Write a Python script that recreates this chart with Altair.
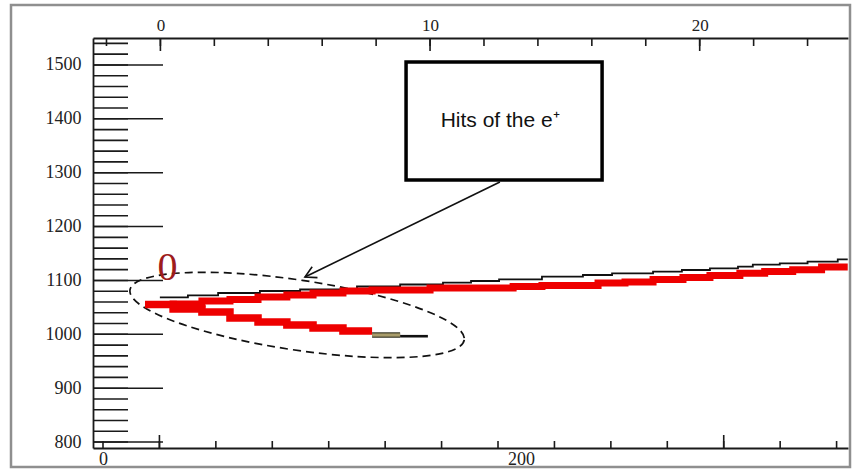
import altair as alt
import pandas as pd

# ---------------- axis values ----------------
y_labels = [800, 900, 1000, 1100, 1200, 1300, 1400, 1500]
y_minor_ticks = [800, 820, 840, 860, 880, 900, 920, 940, 960, 980, 1000, 1020, 1040, 1060, 1080,
                 1100, 1120, 1140, 1160, 1180, 1200, 1220, 1240, 1260, 1280, 1300, 1320, 1340, 1360,
                 1380, 1400, 1420, 1440, 1460, 1480, 1500, 1520, 1540]
y_major_ticks = [800, 900, 1000, 1100, 1200, 1300, 1400, 1500]

top_labels = [0, 10, 20]
top_minor_ticks = [-2, 0, 2, 4, 6, 8, 10, 12, 14, 16, 18, 20, 22, 24]
top_major_ticks = [0, 10, 20]

bottom_labels = [0, 200]
bottom_minor_ticks = [0, 27, 54, 81, 108, 135, 162, 189, 216, 243, 270, 297, 324, 351]
bottom_major_ticks = [27, 297]

# ---------------- tracks ----------------
black_x = [-0.02, 1.02, 2.14, 3.69, 5.18, 7.29, 8.89, 10.48, 11.52, 12.56, 14.15, 15.67, 16.75,
           18.27, 19.34, 20.38, 21.42, 21.97, 22.97, 24.00, 25.12, 25.49]
black_y = [1068.7, 1072.4, 1076.7, 1080.4, 1083.2, 1088.8, 1092.5, 1095.8, 1099.0, 1102.1, 1107.0,
           1110.1, 1113.3, 1116.2, 1119.4, 1122.5, 1125.5, 1129.2, 1131.8, 1134.8, 1139.2, 1139.2]

red_upper_x = [-0.57, 0.47, 1.54, 2.58, 3.62, 4.69, 5.66, 6.77, 7.85, 10.00, 13.08, 14.15, 16.23,
               17.23, 18.27, 19.38, 20.38, 21.49, 22.41, 23.45, 24.52, 25.49]
red_upper_y = [1055.3, 1056.3, 1061.9, 1064.6, 1069.3, 1073.0, 1076.7, 1080.4, 1082.3, 1086.0,
               1088.8, 1090.6, 1095.3, 1097.1, 1101.8, 1105.5, 1109.2, 1113.3, 1116.6, 1119.9,
               1125.0, 1125.0]

red_lower_x = [-0.57, 0.47, 1.54, 2.58, 3.62, 4.69, 5.66, 6.77, 7.85]
red_lower_y = [1055.3, 1047.0, 1041.4, 1030.3, 1022.9, 1017.3, 1011.7, 1006.2, 1006.2]

olive_x = [7.85, 8.89]
olive_y = [998.7, 998.7]

tail_x = [8.89, 9.92]
tail_y = [996.5, 996.5]

# ---------------- annotations ----------------
ellipse_x = [5.07]
ellipse_y = [1035.9]
box_x, box_x2 = [9.11], [16.38]
box_y, box_y2 = [1505.5], [1286.4]
box_text = ["Hits of the e\u207a"]
box_text_x, box_text_y = [12.6], [1395.9]
arrow_x, arrow_y = [12.59], [1282.7]
arrow_x2, arrow_y2 = [5.36], [1106.4]
marker_text = ["0"]
marker_x, marker_y = [0.26], [1123.0]

# ---------------- scales / axes ----------------
W, H = 755, 410
xs = alt.Scale(domain=[-2.5, 25.5], nice=False, zero=False)
xb = alt.Scale(domain=[-4.785, 356.46], nice=False, zero=False)
ys = alt.Scale(domain=[789, 1550], nice=False, zero=False)

SERIF = "Liberation Serif"
top_axis = alt.Axis(orient="top", values=top_labels, ticks=False, tickSize=0, grid=False,
                    domainColor="#1a1a1a", domainWidth=1.8, labelFont=SERIF, labelFontSize=17,
                    labelColor="#222222", labelPadding=4, title=None, labelFlush=False,
                    format="d")
left_axis = alt.Axis(orient="left", values=y_labels, ticks=False, tickSize=0, grid=False,
                     domainColor="#1a1a1a", domainWidth=1.8, labelFont=SERIF, labelFontSize=18,
                     labelColor="#222222", labelPadding=12, title=None, labelFlush=False,
                     format="d")
bottom_axis = alt.Axis(orient="bottom", values=bottom_labels, ticks=False, tickSize=0, grid=False,
                       domainColor="#1a1a1a", domainWidth=1.8, labelFont=SERIF, labelFontSize=18,
                       labelColor="#222222", labelPadding=2, title=None, labelFlush=False,
                       format="d")


def X(field):
    return alt.X(f"{field}:Q", scale=xs, axis=top_axis)


def Y(field):
    return alt.Y(f"{field}:Q", scale=ys, axis=left_axis)


one = pd.DataFrame({"k": [0]})

# screenshot frame
frame = alt.Chart(one).mark_rect(fill=None, stroke="#8f8f8f", strokeWidth=2.5).encode(
    x=alt.value(-82), x2=alt.value(757), y=alt.value(-33), y2=alt.value(429))

# left ticks (inward)
left_minor = alt.Chart(pd.DataFrame({"v": y_minor_ticks})).mark_rule(
    color="#1a1a1a", strokeWidth=1.6).encode(y=Y("v"), x=alt.value(0), x2=alt.value(35))
left_major = alt.Chart(pd.DataFrame({"v": y_major_ticks})).mark_rule(
    color="#1a1a1a", strokeWidth=1.6).encode(y=Y("v"), x=alt.value(0), x2=alt.value(70))

# top ticks (inward)
top_minor = alt.Chart(pd.DataFrame({"v": top_minor_ticks})).mark_rule(
    color="#1a1a1a", strokeWidth=1.6).encode(x=X("v"), y=alt.value(0), y2=alt.value(8))
top_major = alt.Chart(pd.DataFrame({"v": top_major_ticks})).mark_rule(
    color="#1a1a1a", strokeWidth=1.6).encode(x=X("v"), y=alt.value(0), y2=alt.value(13))

# ellipse (dashed)
ELLIPSE = ("M 1 0 C 1 0.1144 0.5523 0.2071 0 0.2071 C -0.5523 0.2071 -1 0.1144 -1 0 "
           "C -1 -0.1144 -0.5523 -0.2071 0 -0.2071 C 0.5523 -0.2071 1 -0.1144 1 0 Z")
ellipse = alt.Chart(pd.DataFrame({"x": ellipse_x, "y": ellipse_y})).mark_point(
    shape=ELLIPSE, filled=False, stroke="#111111", strokeWidth=1.7, strokeDash=[8, 5],
    size=114244, angle=8.5, opacity=1).encode(x=X("x"), y=Y("y"))

black = alt.Chart(pd.DataFrame({"x": black_x, "y": black_y})).mark_line(
    interpolate="step-after", color="#111111", strokeWidth=1.8).encode(x=X("x"), y=Y("y"))

red_upper = alt.Chart(pd.DataFrame({"x": red_upper_x, "y": red_upper_y})).mark_line(
    interpolate="step-after", color="#ee0000", strokeWidth=7, strokeCap="butt").encode(
    x=X("x"), y=Y("y"))
red_lower = alt.Chart(pd.DataFrame({"x": red_lower_x, "y": red_lower_y})).mark_line(
    interpolate="step-after", color="#ee0000", strokeWidth=7.5, strokeCap="butt").encode(
    x=X("x"), y=Y("y"))

olive_edge = alt.Chart(pd.DataFrame({"x": olive_x, "y": olive_y})).mark_line(
    color="#333322", strokeWidth=5.5, strokeCap="butt").encode(x=X("x"), y=Y("y"))
olive = alt.Chart(pd.DataFrame({"x": olive_x, "y": olive_y})).mark_line(
    color="#a89c6a", strokeWidth=3.2, strokeCap="butt").encode(x=X("x"), y=Y("y"))
tail = alt.Chart(pd.DataFrame({"x": tail_x, "y": tail_y})).mark_line(
    color="#111111", strokeWidth=2.6, strokeCap="butt").encode(x=X("x"), y=Y("y"))

arrow_df = pd.DataFrame({"x": arrow_x, "y": arrow_y, "x2": arrow_x2, "y2": arrow_y2})
arrow = alt.Chart(arrow_df).mark_rule(color="#111111", strokeWidth=1.6).encode(
    x=X("x"), y=Y("y"), x2="x2:Q", y2="y2:Q")
arrow_head = alt.Chart(arrow_df).mark_point(
    shape="M -1 -0.55 L 0 0 L -1 0.55", filled=False, stroke="#111111", strokeWidth=1.6,
    size=484, angle=154, opacity=1).encode(x=X("x2"), y=Y("y2"))

box_df = pd.DataFrame({"x": box_x, "x2": box_x2, "y": box_y, "y2": box_y2})
box = alt.Chart(box_df).mark_rect(fill="white", stroke="#000000", strokeWidth=3.5).encode(
    x=X("x"), x2="x2:Q", y=Y("y"), y2="y2:Q")
box_label = alt.Chart(pd.DataFrame({"x": box_text_x, "y": box_text_y, "t": box_text})).mark_text(
    font="Liberation Sans", fontSize=21, color="#111111", align="center", baseline="middle").encode(
    x=X("x"), y=Y("y"), text="t:N")

marker = alt.Chart(pd.DataFrame({"x": marker_x, "y": marker_y, "t": marker_text})).mark_text(
    font=SERIF, fontSize=40, color="#9e1c1c", align="center", baseline="middle").encode(
    x=X("x"), y=Y("y"), text="t:N")

top_group = alt.layer(frame, left_minor, left_major, top_minor, top_major, ellipse, black,
                      red_upper, red_lower, olive_edge, olive, tail, arrow, arrow_head, box,
                      box_label, marker)

# bottom axis group with its own horizontal scale
bottom_minor = alt.Chart(pd.DataFrame({"v": bottom_minor_ticks})).mark_rule(
    color="#1a1a1a", strokeWidth=1.6).encode(
    x=alt.X("v:Q", scale=xb, axis=bottom_axis), y=alt.value(H), y2=alt.value(H - 7))
bottom_major = alt.Chart(pd.DataFrame({"v": bottom_major_ticks})).mark_rule(
    color="#1a1a1a", strokeWidth=1.6).encode(
    x=alt.X("v:Q", scale=xb, axis=bottom_axis), y=alt.value(H), y2=alt.value(H - 13))
bottom_group = alt.layer(bottom_minor, bottom_major)

chart = alt.layer(top_group, bottom_group).resolve_scale(x="independent").properties(
    width=W, height=H,
    autosize=alt.AutoSizeParams(type="none"),
    padding={"left": 93, "top": 38, "right": 7, "bottom": 22},
    background="white",
).configure_view(stroke=None)

chart.save("out.html", embed_options={"renderer": "svg", "actions": False})
